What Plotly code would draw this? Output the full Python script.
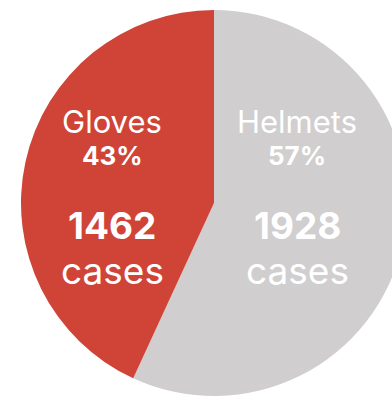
import plotly.graph_objects as go

categories = ["Gloves", "Helmets"]
cases = [1462, 1928]
percent_labels = ["43%", "57%"]
colors = ["#CF4437", "#D0CECF"]

# Figure is wider than the window so the pie is cut off at the right edge.
W, H = 407, 397
FONT = "Inter"

# Reverse order so that, drawn clockwise from 12 o'clock, Gloves lands on the left.
fig = go.Figure(go.Pie(
    labels=categories[::-1],
    values=cases[::-1],
    sort=False,
    direction="clockwise",
    rotation=0,
    marker=dict(colors=colors[::-1], line=dict(width=0)),
    textinfo="none",
    hoverinfo="label+value+percent",
    domain=dict(x=[21 / W, 1], y=[0, 1]),
    showlegend=False,
))

centers_x = [112, 297]
line_y = [115, 150, 222, 268]

def px(x):
    return x / W

def py(y):
    return 1 - y / H

for i, cat in enumerate(categories):
    lines = [
        (cat, 31, "normal"),
        (percent_labels[i], 26, "bold"),
        (str(cases[i]), 37, "bold"),
        ("cases", 37, "normal"),
    ]
    for (txt, size, weight), y in zip(lines, line_y):
        fig.add_annotation(
            x=px(centers_x[i]), y=py(y), xref="paper", yref="paper",
            text=txt, showarrow=False, xanchor="center", yanchor="middle",
            font=dict(family=FONT, size=size, color="white", weight=weight),
        )

fig.update_layout(
    width=W, height=H,
    margin=dict(l=0, r=0, t=10, b=1),
    paper_bgcolor="white",
    plot_bgcolor="white",
)

fig.write_html(
    "out.html",
    config={"displayModeBar": False},
    post_script=(
        "document.documentElement.style.overflow='hidden';"
        "document.body.style.margin='0';"
        "document.body.style.overflow='hidden';"
    ),
)
